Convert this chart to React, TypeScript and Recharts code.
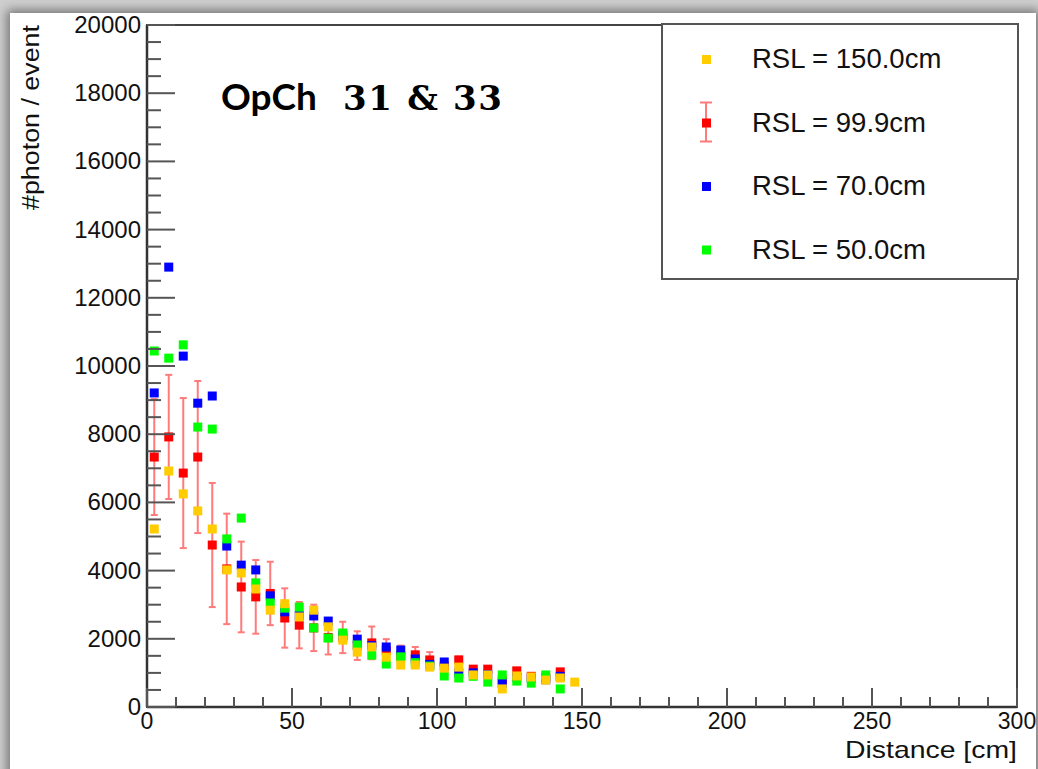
import { ErrorBar, ReferenceArea, Scatter, ScatterChart, XAxis, YAxis } from "recharts";

const distance = [
  2.5, 7.5, 12.5, 17.5, 22.5, 27.5, 32.5, 37.5, 42.5, 47.5, 52.5, 57.5, 62.5, 67.5, 72.5,
  77.5, 82.5, 87.5, 92.5, 97.5, 102.5, 107.5, 112.5, 117.5, 122.5, 127.5, 132.5, 137.5, 142.5, 147.5,
];

// RSL = 150.0cm (yellow)
const rsl150 = [
  5220, 6920, 6250, 5750, 5220, 4020, 3930, 3460, 2840, 3030, 2640, 2840, 2350, 1960, 1610,
  1760, 1460, 1230, 1230, 1170, 1140, 1170, 940, 940, 530, 910, 880, 790, 850, 730,
];

// RSL = 99.9cm (red, with errors)
const rsl99 = [
  7330, 7920, 6860, 7330, 4750, 4050, 3520, 3230, 3330, 2610, 2400, 2320, 2040, 2040, 1800,
  1880, 1650, 1500, 1530, 1380, 1200, 1380, 1110, 1110, 790, 1060, 900, 870, 1030,
];
const rsl99Err = [
  1700, 1820, 2200, 2230, 1820, 1620, 1330, 1080, 930, 870, 680, 680, 500, 460, 420,
  480, 340, 300, 230, 230, 200, 100, 80, 80, 80, 80, 80, 80, 80,
];

// RSL = 70.0cm (blue)
const rsl70 = [
  9210, 12900, 10290, 8910, 9120, 4720, 4160, 4020, 3260, 2790, 2680, 2670, 2520, 2100, 1990,
  1800, 1760, 1670, 1410, 1250, 1320, 1000, 1000, 950, 700, 880, 850, 800, 900,
];

// RSL = 50.0cm (green)
const rsl50 = [
  10440, 10230, 10620, 8210, 8150, 4930, 5540, 3640, 3050, 2900, 2930, 2320, 2020, 2170, 1820,
  1520, 1260, 1470, 1300, 1200, 910, 850, 900, 730, 940, 760, 700, 940, 530,
];

const xMajor = [0, 50, 100, 150, 200, 250, 300];
const yMajor = [0, 2000, 4000, 6000, 8000, 10000, 12000, 14000, 16000, 18000, 20000];
const xTicks = Array.from({ length: 31 }, (_, i) => i * 10);
const yTicks = Array.from({ length: 41 }, (_, i) => i * 500);

const legendItems = [
  { label: "RSL = 150.0cm", color: "#ffcc00", err: false },
  { label: "RSL = 99.9cm", color: "#ff0000", err: true },
  { label: "RSL = 70.0cm", color: "#0000ff", err: false },
  { label: "RSL = 50.0cm", color: "#00ff00", err: false },
];

const sans = '"Liberation Sans", Arial, Helvetica, sans-serif';

function toPoints(values: number[], errors?: number[]) {
  return values.map((v, i) => ({ x: distance[i], y: v, err: errors ? errors[i] : 0 }));
}

function square(color: string) {
  return (props: any) => (
    <rect x={props.cx - 4.5} y={props.cy - 4.5} width={9} height={9} fill={color} />
  );
}

function XTick(props: any) {
  const { x, y, payload } = props;
  const major = xMajor.includes(payload.value);
  return (
    <g>
      <line x1={x} x2={x} y1={y} y2={y - (major ? 19 : 10)} stroke="#555" strokeWidth={2} />
      {major && (
        <text x={x} y={y + 22} textAnchor="middle" fontSize={23} fontFamily={sans} fill="#111">
          {payload.value}
        </text>
      )}
    </g>
  );
}

function YTick(props: any) {
  const { x, y, payload } = props;
  const major = yMajor.includes(payload.value);
  return (
    <g>
      <line x1={x} x2={x + (major ? 28 : 14)} y1={y} y2={y} stroke="#555" strokeWidth={2} />
      {major && (
        <text x={x - 6} y={y + 8} textAnchor="end" fontSize={24} fontFamily={sans} fill="#111">
          {payload.value}
        </text>
      )}
    </g>
  );
}

export default function App() {
  return (
    <div style={{ position: "absolute", left: 0, top: 0, width: 1038, height: 769, overflow: "hidden", background: "#cfcfcf" }}>
      <div
        style={{
          position: "absolute",
          left: 10,
          top: 13,
          width: 1026,
          height: 800,
          background: "#fff",
          boxShadow: "0 0 10px 3px rgba(0,0,0,0.45)",
        }}
      />
      <div style={{ position: "absolute", left: 0, top: 0 }}>
        <ScatterChart width={1038} height={769} margin={{ top: 25, right: 21, left: 87, bottom: 22 }}>
          <XAxis
            type="number"
            dataKey="x"
            domain={[0, 300]}
            ticks={xTicks}
            interval={0}
            height={40}
            tickSize={0}
            tickMargin={0}
            tickLine={false}
            axisLine={{ stroke: "#333", strokeWidth: 2.5 }}
            tick={<XTick />}
            allowDataOverflow
          />
          <YAxis
            type="number"
            dataKey="y"
            domain={[0, 20000]}
            ticks={yTicks}
            interval={0}
            width={60}
            tickSize={0}
            tickMargin={0}
            tickLine={false}
            axisLine={{ stroke: "#333", strokeWidth: 2.5 }}
            tick={<YTick />}
            allowDataOverflow
          />
          <ReferenceArea x1={0} x2={300} y1={0} y2={20000} fill="none" stroke="#444" strokeWidth={2} />
          <Scatter data={toPoints(rsl99, rsl99Err)} shape={square("#ff0000")} isAnimationActive={false}>
            <ErrorBar dataKey="err" direction="y" width={3.5} stroke="#ff7b7b" strokeWidth={2} isAnimationActive={false} />
          </Scatter>
          <Scatter data={toPoints(rsl70)} shape={square("#0000ff")} isAnimationActive={false} />
          <Scatter data={toPoints(rsl50)} shape={square("#00ff00")} isAnimationActive={false} />
          <Scatter data={toPoints(rsl150)} shape={square("#ffcc00")} isAnimationActive={false} />
        </ScatterChart>
      </div>
      <svg width={1038} height={769} style={{ position: "absolute", left: 0, top: 0, pointerEvents: "none" }}>
        <text x={221} y={110} fontSize={37} fontWeight="bold" fontFamily="Lato, 'Open Sans', sans-serif" fill="#000">
          OpCh
        </text>
        <text
          x={343}
          y={110}
          fontSize={34}
          fontWeight="bold"
          fontFamily="'DejaVu Serif', 'Liberation Serif', serif"
          textLength={159}
          lengthAdjust="spacing"
          fill="#000"
        >
          31 &amp; 33
        </text>
        <text
          x={39}
          y={25}
          transform="rotate(-90 39 25)"
          textAnchor="end"
          fontSize={23}
          fontFamily={sans}
          textLength={185}
          lengthAdjust="spacingAndGlyphs"
          fill="#111"
        >
          #photon / event
        </text>
        <text
          x={1017}
          y={758}
          textAnchor="end"
          fontSize={24}
          fontFamily={sans}
          textLength={172}
          lengthAdjust="spacingAndGlyphs"
          fill="#111"
        >
          Distance [cm]
        </text>
        <rect x={662} y={24} width={356} height={255} fill="#fff" stroke="#555" strokeWidth={2} />
        {legendItems.map((item, i) => {
          const cy = 59 + i * 63.5;
          return (
            <g key={item.label}>
              {item.err && (
                <g stroke="#ff7b7b" strokeWidth={2}>
                  <line x1={706} x2={706} y1={cy - 20} y2={cy + 19} />
                  <line x1={700} x2={712} y1={cy - 20} y2={cy - 20} />
                  <line x1={700} x2={712} y1={cy + 19} y2={cy + 19} />
                </g>
              )}
              <rect x={702} y={cy - 4} width={9} height={9} fill={item.color} />
              <text x={752} y={cy + 9} fontSize={27.5} fontFamily={sans} fill="#111">
                {item.label}
              </text>
            </g>
          );
        })}
      </svg>
    </div>
  );
}
